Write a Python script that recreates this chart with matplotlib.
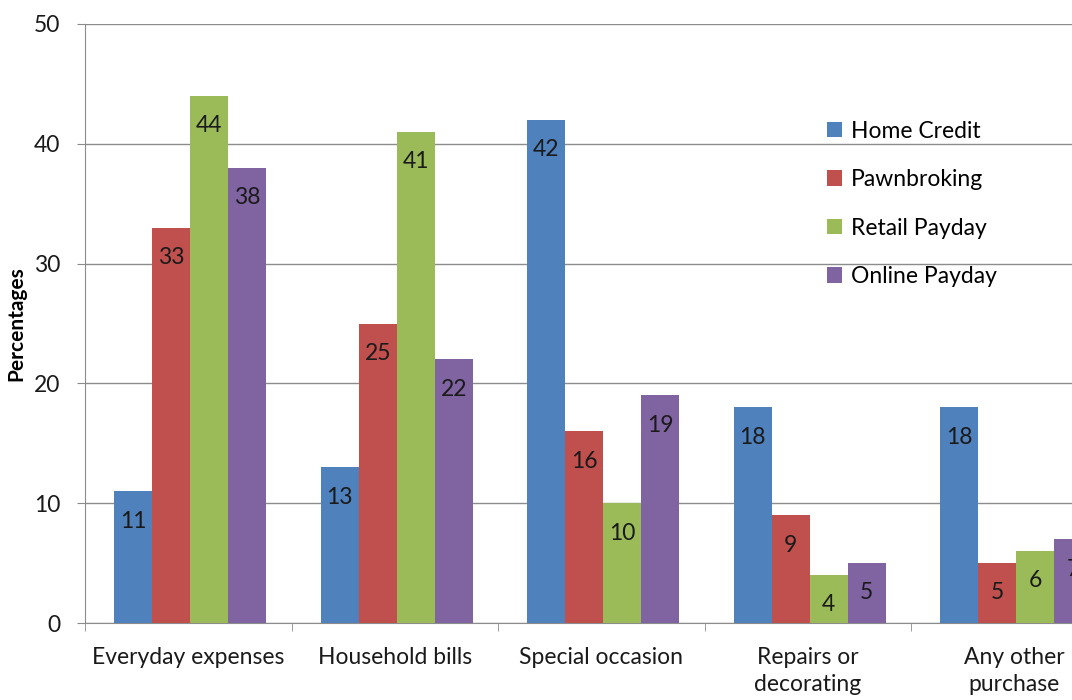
import matplotlib.pyplot as plt
import numpy as np

plt.rcParams['font.family'] = ['Lato', 'DejaVu Sans']

categories = ['Everyday expenses', 'Household bills', 'Special occasion',
              'Repairs or\ndecorating', 'Any other\npurchase']
series = ['Home Credit', 'Pawnbroking', 'Retail Payday', 'Online Payday']
home_credit = [11, 13, 42, 18, 18]
pawnbroking = [33, 25, 16, 9, 5]
retail_payday = [44, 41, 10, 4, 6]
online_payday = [38, 22, 19, 5, 7]
values = [home_credit, pawnbroking, retail_payday, online_payday]
colors = ['#4F81BD', '#C0504D', '#9BBB59', '#8064A2']

fig = plt.figure(figsize=(10.72, 7), dpi=100)
# axes run past the right edge, as in the cropped original
ax = fig.add_axes([85 / 1072, 77 / 700, 1032.5 / 1072, 599 / 700])

x = np.arange(len(categories))
w = 0.184
for j, (name, vals) in enumerate(zip(series, values)):
    bars = ax.bar(x + (j - 1.5) * w + 0.01, vals, w, color=colors[j], label=name, zorder=3)
    for b, v in zip(bars, vals):
        ax.annotate(str(v), (b.get_x() + b.get_width() / 2, v),
                    xytext=(0, -21.5), textcoords='offset points',
                    ha='center', va='center', fontsize=16.5, color='#1a1a1a', zorder=4)

ax.set_xlim(-0.5, len(categories) - 0.5)
ax.set_ylim(0, 50)
ax.set_yticks(range(0, 51, 10))
ax.yaxis.grid(True, color='#8c8c8c', lw=1, zorder=0)
ax.set_xticks(x)
ax.set_xticklabels(categories, fontsize=16.5, color='#1a1a1a', linespacing=1.35)
ax.set_xticks(np.arange(-0.5, len(categories), 1), minor=True)
ax.tick_params(axis='x', which='major', length=0, pad=17)
ax.tick_params(axis='x', which='minor', length=6, color='#8c8c8c', direction='out')
ax.tick_params(axis='y', length=6, color='#8c8c8c', labelsize=16.5, labelcolor='#1a1a1a', pad=12)
for s in ['top', 'right']:
    ax.spines[s].set_visible(False)
for s in ['left', 'bottom']:
    ax.spines[s].set_color('#8c8c8c')
ax.set_ylabel('Percentages', fontsize=15, fontweight='bold')
ax.yaxis.set_label_coords(-0.057, 0.5)

ax.legend(loc='upper left', bbox_to_anchor=(806 / 1072, 1 - 100 / 700),
          bbox_transform=fig.transFigure, frameon=False, fontsize=16.5,
          handlelength=0.65, handleheight=0.65, handletextpad=0.4,
          labelspacing=1.2)

plt.savefig('out.png')
